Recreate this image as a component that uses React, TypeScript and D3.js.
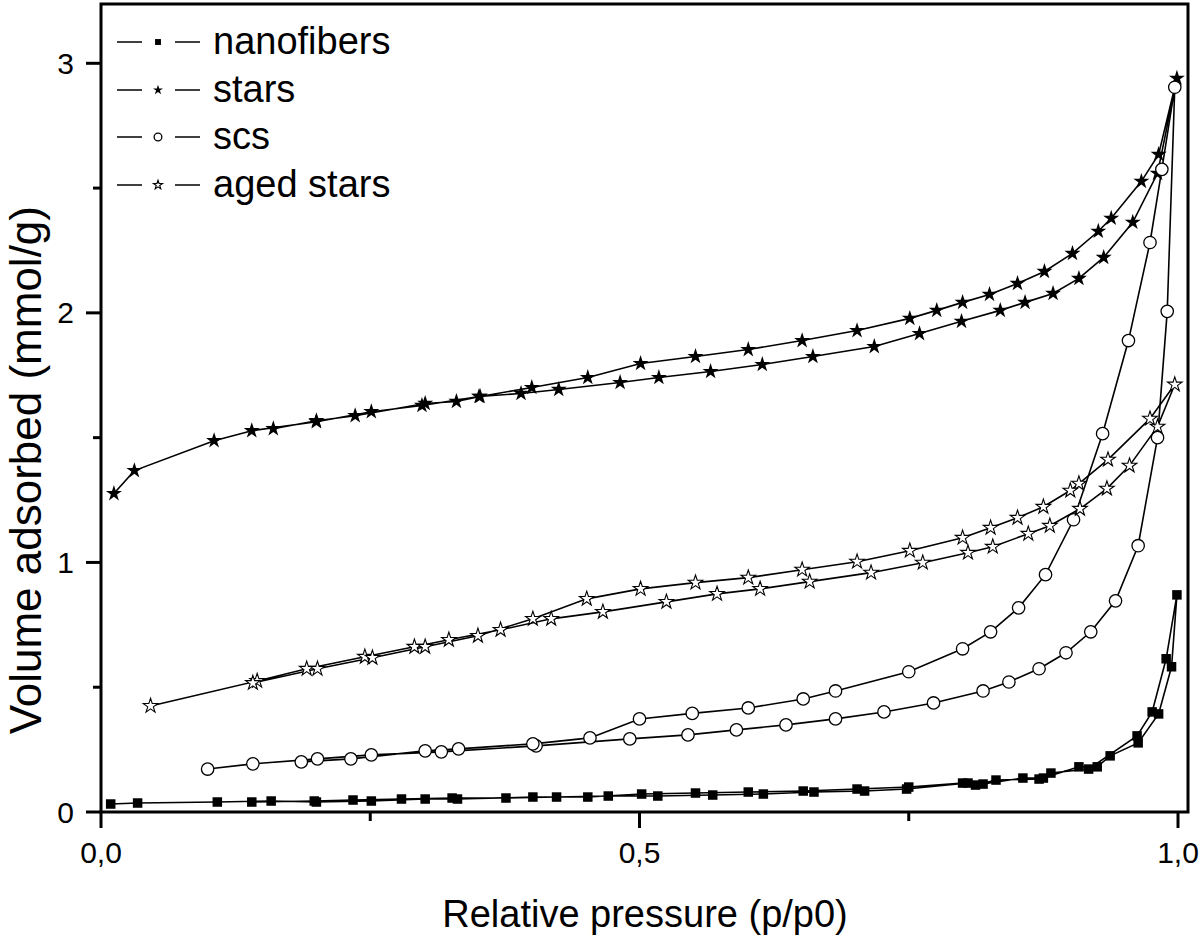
import React from 'react';
import * as d3 from 'd3';

const W = 1200;
const H = 935;

// x tick values and labels
const xMajor = [0, 0.5, 1.0];
const xMajorLabels = ['0,0', '0,5', '1,0'];
const xMinor = [0.25, 0.75];
const yMajor = [0, 1, 2, 3];
const yMajorLabels = ['0', '1', '2', '3'];
const yMinor = [0.5, 1.5, 2.5];

const seriesNames = ['nanofibers', 'stars', 'scs', 'aged stars'];

// nanofibers: adsorption then desorption, [p/p0, mmol/g]
const nanoAds: [number, number][] = [
  [0.009, 0.032], [0.034, 0.036], [0.108, 0.040], [0.158, 0.044], [0.2, 0.04], [0.251, 0.044],
  [0.301, 0.052], [0.331, 0.052], [0.401, 0.06], [0.452, 0.06], [0.502, 0.072], [0.552, 0.076],
  [0.601, 0.08], [0.652, 0.084], [0.702, 0.092], [0.75, 0.1], [0.8, 0.116], [0.819, 0.112],
  [0.856, 0.136], [0.875, 0.136], [0.908, 0.181], [0.925, 0.181], [0.937, 0.225], [0.963, 0.277],
  [0.982, 0.393], [0.994, 0.582], [0.999, 0.87],
];
const nanoDes: [number, number][] = [
  [0.989, 0.614], [0.976, 0.401], [0.962, 0.305], [0.917, 0.172], [0.882, 0.156], [0.871, 0.132],
  [0.831, 0.128], [0.812, 0.108], [0.805, 0.116], [0.748, 0.092], [0.709, 0.084], [0.662, 0.08],
  [0.615, 0.072], [0.568, 0.068], [0.517, 0.064], [0.471, 0.064], [0.423, 0.06], [0.376, 0.056],
  [0.326, 0.056], [0.279, 0.052], [0.234, 0.048], [0.198, 0.044], [0.14, 0.04],
];

const starsAds: [number, number][] = [
  [0.012, 1.276], [0.031, 1.368], [0.105, 1.488], [0.14, 1.528], [0.2, 1.564], [0.251, 1.604],
  [0.298, 1.629], [0.351, 1.665], [0.39, 1.677], [0.425, 1.693], [0.482, 1.721], [0.518, 1.741],
  [0.566, 1.765], [0.614, 1.793], [0.661, 1.825], [0.718, 1.865], [0.76, 1.917], [0.799, 1.966],
  [0.835, 2.01], [0.858, 2.042], [0.884, 2.078], [0.908, 2.138], [0.931, 2.222], [0.958, 2.363],
  [0.981, 2.559], [0.999, 2.94],
];
const starsDes: [number, number][] = [
  [0.982, 2.635], [0.966, 2.527], [0.938, 2.379], [0.926, 2.327], [0.902, 2.238], [0.876, 2.166],
  [0.851, 2.118], [0.825, 2.074], [0.8, 2.042], [0.776, 2.01], [0.751, 1.978], [0.702, 1.929],
  [0.651, 1.889], [0.601, 1.853], [0.552, 1.825], [0.501, 1.797], [0.452, 1.741], [0.4, 1.701],
  [0.352, 1.665], [0.33, 1.645], [0.301, 1.637], [0.236, 1.588], [0.2, 1.568], [0.16, 1.536],
];

const scsAds: [number, number][] = [
  [0.099, 0.172], [0.141, 0.193], [0.201, 0.213], [0.251, 0.229], [0.316, 0.241], [0.404, 0.265],
  [0.491, 0.293], [0.545, 0.309], [0.59, 0.329], [0.636, 0.349], [0.682, 0.373], [0.727, 0.401],
  [0.773, 0.437], [0.819, 0.485], [0.843, 0.521], [0.871, 0.574], [0.896, 0.638], [0.919, 0.722],
  [0.942, 0.846], [0.963, 1.067], [0.981, 1.5], [0.99, 2.006], [0.997, 2.904],
];
const scsDes: [number, number][] = [
  [0.985, 2.575], [0.974, 2.282], [0.954, 1.889], [0.93, 1.516], [0.903, 1.171], [0.877, 0.951],
  [0.852, 0.818], [0.826, 0.722], [0.8, 0.654], [0.75, 0.562], [0.682, 0.485], [0.652, 0.453],
  [0.601, 0.417], [0.549, 0.395], [0.5, 0.373], [0.454, 0.297], [0.401, 0.273], [0.332, 0.253],
  [0.301, 0.245], [0.232, 0.213], [0.186, 0.201],
];

const agedAds: [number, number][] = [
  [0.046, 0.425], [0.145, 0.525], [0.191, 0.574], [0.245, 0.622], [0.291, 0.662], [0.323, 0.69],
  [0.371, 0.73], [0.418, 0.774], [0.466, 0.802], [0.525, 0.842], [0.572, 0.874], [0.612, 0.894],
  [0.658, 0.923], [0.715, 0.959], [0.763, 0.999], [0.805, 1.039], [0.828, 1.063], [0.861, 1.115],
  [0.881, 1.147], [0.909, 1.215], [0.934, 1.296], [0.955, 1.388], [0.981, 1.544], [0.997, 1.713],
];
const agedDes: [number, number][] = [
  [0.974, 1.576], [0.935, 1.412], [0.908, 1.316], [0.9, 1.288], [0.875, 1.223], [0.851, 1.179],
  [0.826, 1.139], [0.8, 1.099], [0.751, 1.047], [0.702, 1.003], [0.651, 0.971], [0.601, 0.939],
  [0.552, 0.919], [0.501, 0.894], [0.451, 0.854], [0.401, 0.774], [0.35, 0.706], [0.301, 0.662],
  [0.252, 0.618], [0.201, 0.574], [0.141, 0.517],
];

type Kind = 'square' | 'star' | 'circle' | 'openstar';

const series: { name: string; kind: Kind; ads: [number, number][]; des: [number, number][] }[] = [
  { name: seriesNames[0], kind: 'square', ads: nanoAds, des: nanoDes },
  { name: seriesNames[1], kind: 'star', ads: starsAds, des: starsDes },
  { name: seriesNames[2], kind: 'circle', ads: scsAds, des: scsDes },
  { name: seriesNames[3], kind: 'openstar', ads: agedAds, des: agedDes },
];

const FONT = '"Liberation Sans", Arial, Helvetica, sans-serif';

function Marker({ kind, x, y, small }: { kind: Kind; x: number; y: number; small?: boolean }) {
  const k = small ? 0.62 : 1;
  if (kind === 'square') {
    const s = 9.5 * k;
    return <rect x={x - s / 2} y={y - s / 2} width={s} height={s} fill="#000" />;
  }
  if (kind === 'circle') {
    return <circle cx={x} cy={y} r={6.2 * k} fill="#fff" stroke="#000" strokeWidth={1.3} />;
  }
  const size = kind === 'star' ? 80 * k * k : 66 * k * k;
  const d = d3.symbol().type(d3.symbolStar).size(size)() as string;
  if (kind === 'star') {
    return <path d={d} transform={`translate(${x},${y})`} fill="#000" />;
  }
  return <path d={d} transform={`translate(${x},${y})`} fill="#fff" stroke="#000" strokeWidth={1.1} />;
}

export default function App() {
  const x = d3.scaleLinear().domain([0, 1]).range([101, 1178]);
  const y = d3.scaleLinear().domain([0, 3]).range([812, 63.3]);
  const line = d3
    .line<[number, number]>()
    .x((d) => x(d[0]))
    .y((d) => y(d[1]));

  const left = 101;
  const right = 1188;
  const top = 4;
  const bottom = 812;

  const legendY = [42, 90, 137, 185];

  return (
    <svg
      width={W}
      height={H}
      style={{ position: 'absolute', left: 0, top: 0, background: '#fff' }}
      fontFamily={FONT}
    >
      <rect x={0} y={0} width={W} height={H} fill="#fff" />

      {/* data */}
      {series.map((s) => (
        <g key={s.name}>
          <path d={line([...s.ads, ...s.des]) as string} fill="none" stroke="#000" strokeWidth={1.6} />
          {[...s.ads, ...s.des].map((d, i) => (
            <Marker key={i} kind={s.kind} x={x(d[0])} y={y(d[1])} />
          ))}
        </g>
      ))}

      {/* frame */}
      <rect x={left} y={top} width={right - left} height={bottom - top} fill="none" stroke="#000" strokeWidth={3} />

      {/* x ticks */}
      {xMajor.map((v, i) => (
        <g key={'xm' + i}>
          <line x1={x(v)} x2={x(v)} y1={bottom} y2={bottom + 16} stroke="#000" strokeWidth={3} />
          <text x={x(v)} y={863} fontSize={30} textAnchor="middle">
            {xMajorLabels[i]}
          </text>
        </g>
      ))}
      {xMinor.map((v, i) => (
        <line key={'xn' + i} x1={x(v)} x2={x(v)} y1={bottom} y2={bottom + 9} stroke="#000" strokeWidth={3} />
      ))}

      {/* y ticks */}
      {yMajor.map((v, i) => (
        <g key={'ym' + i}>
          <line x1={left} x2={left - 15} y1={y(v)} y2={y(v)} stroke="#000" strokeWidth={3} />
          <text x={74} y={y(v) + 10.5} fontSize={30} textAnchor="end">
            {yMajorLabels[i]}
          </text>
        </g>
      ))}
      {yMinor.map((v, i) => (
        <line key={'yn' + i} x1={left} x2={left - 8} y1={y(v)} y2={y(v)} stroke="#000" strokeWidth={3} />
      ))}

      {/* axis titles */}
      <text x={645} y={927} fontSize={38} textAnchor="middle">
        Relative pressure (p/p0)
      </text>
      <text transform={`translate(41,206) rotate(-90)`} fontSize={44} textAnchor="end">
        Volume adsorbed (mmol/g)
      </text>

      {/* legend */}
      {series.map((s, i) => (
        <g key={'lg' + i}>
          <line x1={117} x2={142} y1={legendY[i]} y2={legendY[i]} stroke="#000" strokeWidth={1.5} />
          <line x1={175} x2={200} y1={legendY[i]} y2={legendY[i]} stroke="#000" strokeWidth={1.5} />
          <Marker kind={s.kind} x={158} y={legendY[i]} small />
          <text x={213} y={legendY[i] + 12} fontSize={38}>
            {s.name}
          </text>
        </g>
      ))}
    </svg>
  );
}
